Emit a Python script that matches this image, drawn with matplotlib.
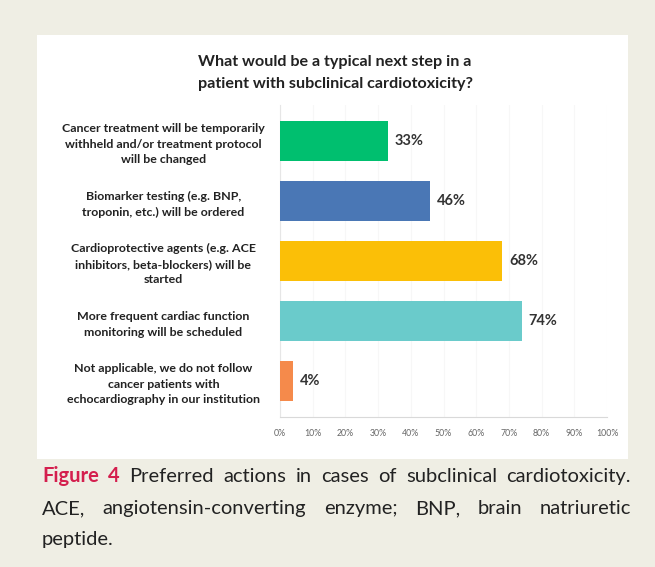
import matplotlib
matplotlib.use("Agg")
import matplotlib.pyplot as plt
from matplotlib.patches import Rectangle

categories = [
    "Cancer treatment will be temporarily\nwithheld and/or treatment protocol\nwill be changed",
    "Biomarker testing (e.g. BNP,\ntroponin, etc.) will be ordered",
    "Cardioprotective agents (e.g. ACE\ninhibitors, beta-blockers) will be\nstarted",
    "More frequent cardiac function\nmonitoring will be scheduled",
    "Not applicable, we do not follow\ncancer patients with\nechocardiography in our institution",
]
values = [33, 46, 68, 74, 4]
colors = ["#00BF6F", "#4A77B5", "#FBBF07", "#6ACBCB", "#F58A4B"]
xticks = [0, 10, 20, 30, 40, 50, 60, 70, 80, 90, 100]
title = "What would be a typical next step in a\npatient with subclinical cardiotoxicity?"

W, H = 655, 567
fig = plt.figure(figsize=(W / 100, H / 100), dpi=100)
fig.patch.set_facecolor("#EFEEE4")
bg = Rectangle((37 / W, 1 - 459 / H), (628 - 37) / W, (459 - 35) / H,
               transform=fig.transFigure, facecolor="white", edgecolor="none", zorder=-5)
fig.patches.append(bg)

font = "Lato"
ax = fig.add_axes([280 / W, 1 - 417 / H, 327 / W, 312 / H])
ax.set_zorder(2)
ax.set_facecolor("none")
y = list(range(len(values)))
ax.barh(y, values, height=0.68, color=colors, zorder=3)
ax.set_xlim(0, 100)
ax.set_ylim(4.6, -0.6)
for yi, v in zip(y, values):
    ax.text(v + 2, yi, f"{v}%", va="center", ha="left", fontsize=10.5,
            fontweight="bold", family=font, color="#333333")
ax.set_yticks(y)
ax.set_yticklabels(categories, fontsize=8.9, fontweight="bold", family=font,
                   color="#222222", ha="center", linespacing=1.5)
ax.tick_params(axis="y", length=0, pad=84)
ax.set_xticks(xticks)
ax.set_xticklabels([f"{t}%" for t in xticks], fontsize=6.3, family=font, color="#666666")
ax.tick_params(axis="x", length=0, pad=9)
ax.grid(axis="x", color="#F7F7F7", linewidth=0.8, zorder=0)
for s in ["top", "right"]:
    ax.spines[s].set_visible(False)
ax.spines["left"].set_color("#E6E6E6")
ax.spines["bottom"].set_color("#D9D9D9")

fig.text(335 / W, 1 - 73 / H, title, ha="center", va="center", fontsize=11.6,
         fontweight="bold", family=font, color="#222222", linespacing=1.65)

# Caption (justified)
renderer = fig.canvas.get_renderer()
cap_size = 14.5

def place_line(words, ypx, x0, x1, justify=True):
    objs = []
    for w, st in words:
        kw = dict(fontsize=cap_size, family=font, va="baseline", ha="left")
        if st == "fig":
            kw.update(color="#D41F4E", fontweight="bold")
        else:
            kw.update(color="#222222")
        objs.append(fig.text(0, 1 - ypx / H, w, **kw))
    widths = [o.get_window_extent(renderer).width for o in objs]
    total = sum(widths)
    if justify and len(objs) > 1:
        gap = (x1 - x0 - total) / (len(objs) - 1)
    else:
        gap = 5
    x = x0
    for o, wd in zip(objs, widths):
        o.set_x(x / W)
        x += wd + gap

line1 = [("Figure", "fig"), ("4", "fig")] + [(w, "n") for w in
         "Preferred actions in cases of subclinical cardiotoxicity.".split()]
line2 = [(w, "n") for w in "ACE, angiotensin-converting enzyme; BNP, brain natriuretic".split()]
line3 = [("peptide.", "n")]
place_line(line1, 482, 42, 631)
place_line(line2, 514, 42, 631)
place_line(line3, 545, 42, 631, justify=False)

fig.savefig("out.png", dpi=100, facecolor=fig.get_facecolor())
